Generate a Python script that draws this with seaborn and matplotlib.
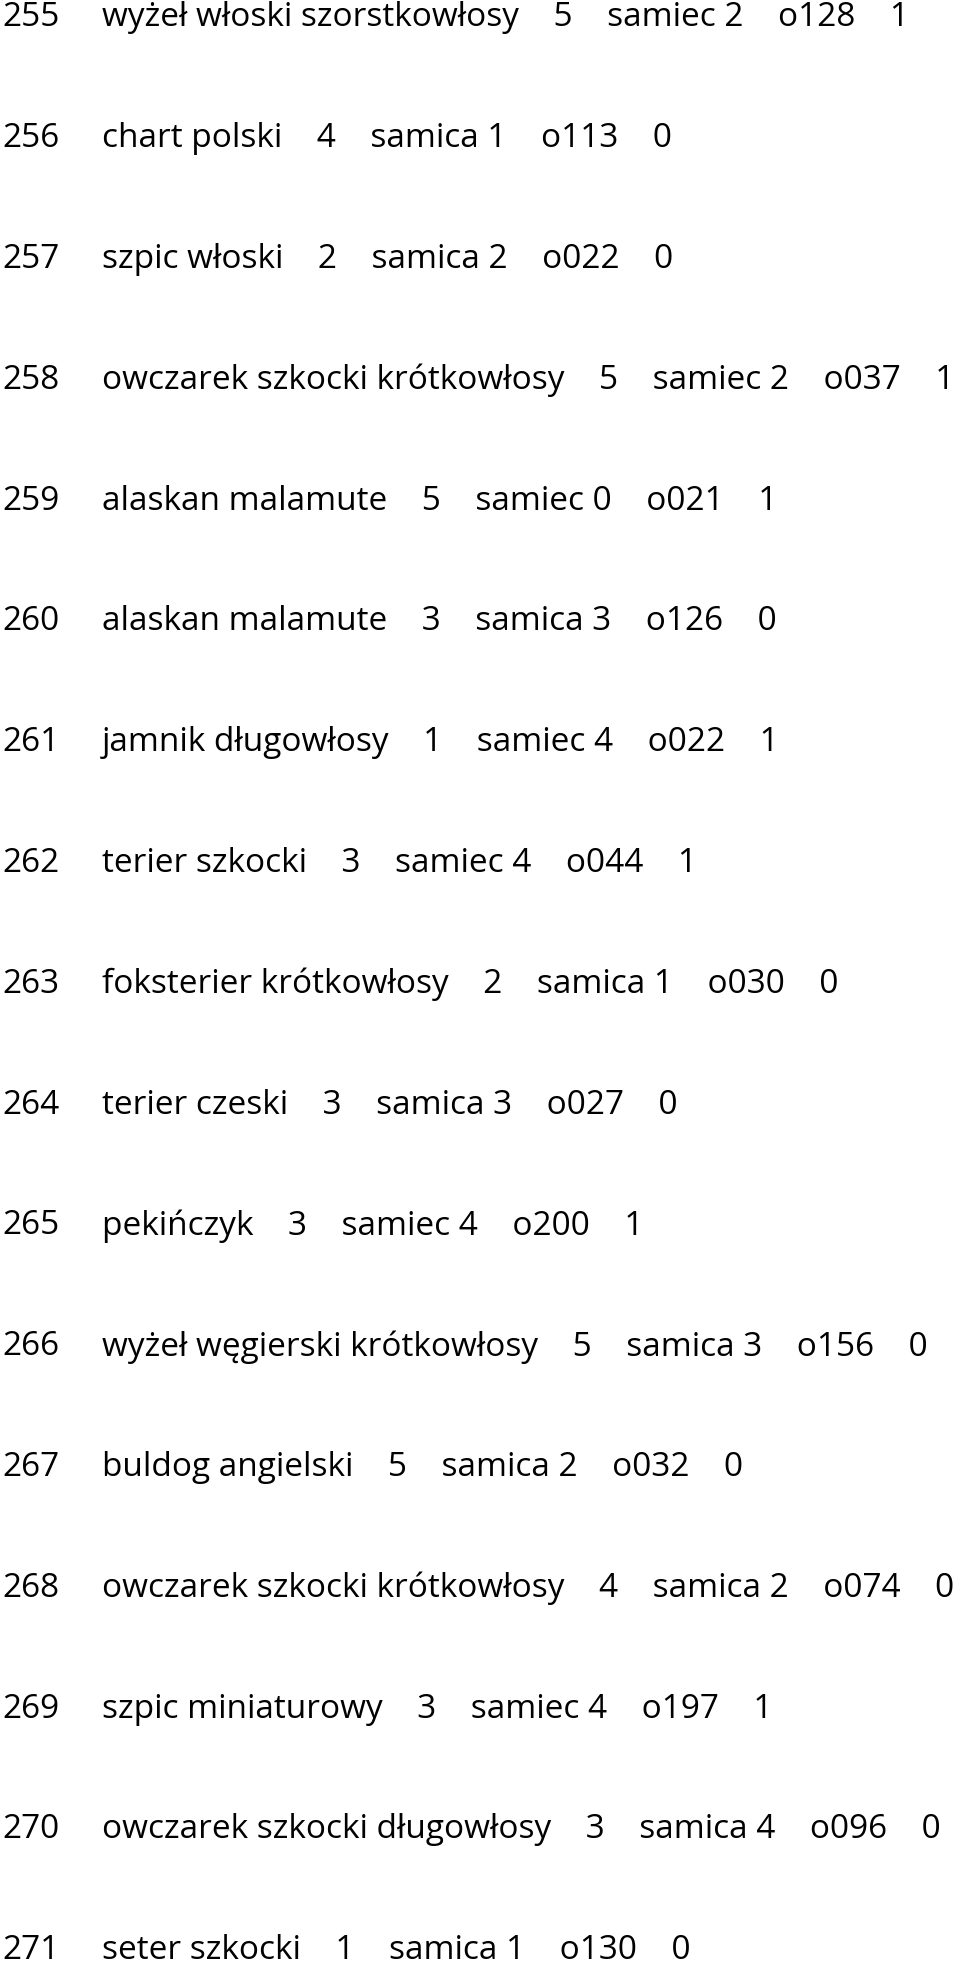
import matplotlib
matplotlib.use("Agg")
import matplotlib.pyplot as plt
import seaborn as sns

ids = list(range(255, 272))
breeds = ["wyżeł włoski szorstkowłosy", "chart polski", "szpic włoski", "owczarek szkocki krótkowłosy",
          "alaskan malamute", "alaskan malamute", "jamnik długowłosy", "terier szkocki",
          "foksterier krótkowłosy", "terier czeski", "pekińczyk", "wyżeł węgierski krótkowłosy",
          "buldog angielski", "owczarek szkocki krótkowłosy", "szpic miniaturowy",
          "owczarek szkocki długowłosy", "seter szkocki"]
ages = [5, 4, 2, 5, 5, 3, 1, 3, 2, 3, 3, 5, 5, 4, 3, 3, 1]
sexes = ["samiec", "samica", "samica", "samiec", "samiec", "samica", "samiec", "samiec", "samica",
         "samica", "samiec", "samica", "samica", "samica", "samiec", "samica", "samica"]
scores = [2, 1, 2, 2, 0, 3, 4, 4, 1, 3, 4, 3, 2, 2, 4, 4, 1]
codes = ["o128", "o113", "o022", "o037", "o021", "o126", "o022", "o044", "o030", "o027", "o200",
         "o156", "o032", "o074", "o197", "o096", "o130"]
flags = [1, 0, 0, 1, 1, 0, 1, 1, 0, 0, 1, 0, 0, 0, 1, 0, 0]

sns.set_theme(style="white")
fig = plt.figure(figsize=(9.6, 19.65), dpi=100)
ax = fig.add_axes([0, 0, 1, 1])
ax.set_xlim(0, 960)
ax.set_ylim(1965, 0)
ax.axis("off")

fs = 24
for i, rid in enumerate(ids):
    y = 18 + i * 120.8
    ax.text(2, y, str(rid), fontsize=fs, family="Open Sans", va="center", ha="left", color="black")
    rest = "    ".join([breeds[i], str(ages[i]), sexes[i] + " " + str(scores[i]), codes[i], str(flags[i])])
    ax.text(102, y, rest, fontsize=fs, family="Open Sans", va="center", ha="left", color="black")

fig.savefig("out.png", dpi=100)
